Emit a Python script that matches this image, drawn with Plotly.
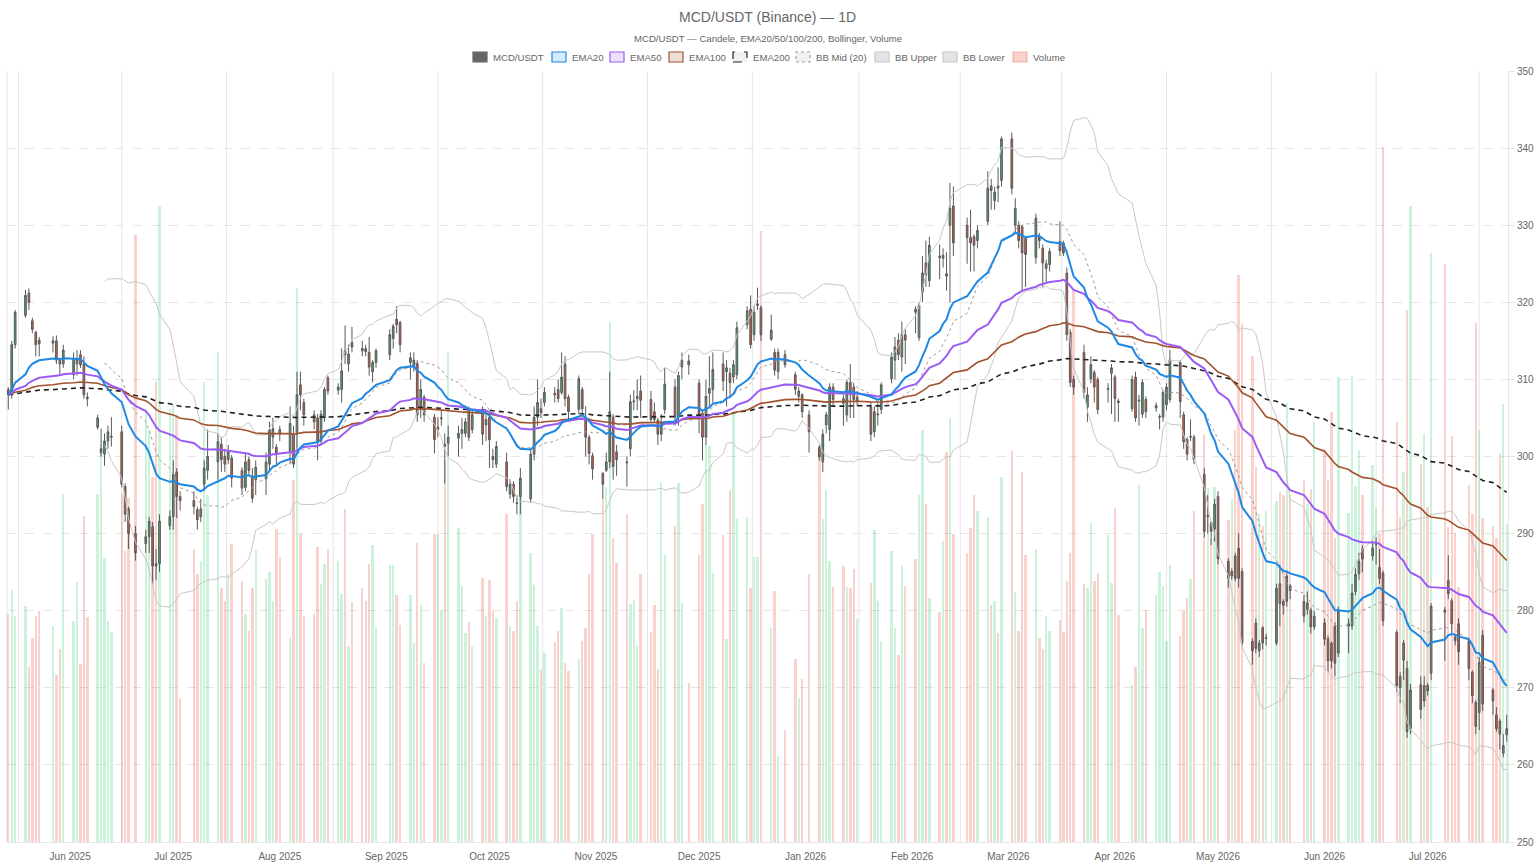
import pandas as pd
import numpy as np
import plotly.graph_objects as go

# ---------------- calendar (US trading days) ----------------
FIRST_DAY = "2025-05-14"
LAST_DAY = "2026-07-24"
MARKET_HOLIDAYS = ["2025-05-26", "2025-06-19", "2025-07-04", "2025-09-01", "2025-11-27",
                   "2025-12-25", "2026-01-01", "2026-01-19", "2026-02-16", "2026-04-03",
                   "2026-05-25", "2026-06-19", "2026-07-03"]

# ---------------- OHLC + volume (one line per week) ----------------
OPEN = [
    308.7, 308.0, 314.5,
    318.3, 321.2, 317.6, 316.1, 315.1,
    314.7, 315.0, 312.5, 312.0,
    310.6, 312.0, 313.2, 312.0, 307.7,
    303.8, 300.5, 300.3, 302.0, 302.5,
    303.2, 296.1, 293.2, 290.0,
    288.7, 289.6, 290.9, 286.1, 286.1,
    291.0, 292.2, 298.0, 294.8,
    294.3, 293.1, 292.2, 296.4, 298.2,
    299.3, 301.6, 300.0, 299.6, 299.8,
    298.2, 296.0, 299.6, 297.5, 297.0,
    297.1, 299.0, 302.5, 301.2, 303.5,
    300.6, 302.9, 302.9, 309.3, 307.0,
    305.4, 305.0, 302.0, 305.0, 310.2,
    308.6, 308.7, 313.7, 312.0, 314.8,
    314.0, 314.0, 313.5, 311.0, 312.2,
    313.2, 315.3, 317.8, 317.4,
    312.2, 311.6, 312.1, 306.1, 307.7,
    305.1, 303.5, 304.9, 301.6, 301.7,
    302.4, 303.0, 303.0, 306.1, 303.5,
    306.1, 304.1, 305.1, 300.0, 299.0,
    299.3, 295.1, 296.4, 294.0, 294.8,
    294.5, 300.3, 305.1, 306.2, 307.0,
    308.2, 308.7, 308.3, 312.0, 307.7,
    306.1, 308.7, 304.8, 302.5, 300.1,
    297.8, 298.2, 299.3, 305.1, 300.6,
    299.3, 301.0, 307.1, 307.5, 308.5,
    307.4, 305.8, 304.7, 302.9, 306.1,
    309.0, 305.1, 311.6, 312.4,
    309.5, 305.6, 302.5, 308.2, 308.7,
    312.0, 311.0, 310.8, 310.3, 310.6,
    317.1, 319.1, 315.8, 319.6, 319.3,
    315.2, 313.5, 311.0, 313.2,
    310.6, 307.8, 308.0, 305.4,
    301.2, 299.3, 304.1, 303.5, 309.0,
    307.5, 305.4, 309.6, 309.0, 307.2,
    306.4, 303.2, 305.4, 306.1,
    310.1, 312.5, 315.1, 312.9, 315.8,
    319.1, 315.4, 321.3, 325.1, 322.8,
    326.0, 325.7, 323.7, 330.0, 332.5,
    330.0, 328.4, 328.5, 328.0,
    330.5, 335.1, 333.2, 335.1, 335.8,
    341.2, 330.0, 330.0, 329.8, 328.3,
    325.8, 328.5, 327.0, 324.4, 324.9,
    327.9, 327.7, 323.8, 316.1, 310.0,
    313.5, 306.4, 310.1, 310.9, 310.0,
    308.7, 310.8, 310.3, 307.2,
    306.2, 310.3, 307.2, 305.5, 307.4,
    306.3, 305.1, 305.1, 306.7, 307.4,
    312.2, 305.4, 302.2, 302.5, 302.5,
    297.7, 292.2, 291.4, 290.6, 294.8,
    286.4, 284.5, 287.1, 288.1, 285.1,
    276.0, 278.4, 274.8, 277.8, 276.4,
    275.8, 283.5, 281.2, 281.2, 283.2,
    281.2, 280.2, 280.1, 277.9,
    278.4, 276.4, 275.8, 278.0, 274.5,
    278.0, 278.0, 282.5, 284.8, 288.0,
    287.1, 288.6, 285.6, 284.9,
    277.2, 271.5, 273.6, 272.5, 264.7,
    270.4, 268.3, 270.3, 271.9,
    280.1, 283.9, 281.3, 276.6, 278.3,
    276.1, 272.0, 268.1, 266.8, 276.8,
    269.7, 266.5, 265.7, 261.5, 263.9,
]
HIGH = [
    309.0, 315.0, 319.0,
    321.6, 321.8, 318.0, 316.3, 315.5,
    315.6, 315.7, 312.8, 314.5,
    313.5, 313.8, 313.8, 313.0, 308.3,
    305.4, 303.6, 303.0, 304.0, 305.1,
    304.0, 296.5, 293.5, 291.0,
    290.5, 292.2, 291.5, 288.0, 292.5,
    293.0, 299.5, 298.5, 295.5,
    295.5, 293.5, 294.5, 299.5, 303.5,
    303.0, 302.5, 301.0, 301.5, 300.2,
    298.6, 300.5, 300.0, 298.5, 299.5,
    300.5, 304.5, 305.0, 301.6, 304.0,
    306.5, 304.0, 311.0, 311.0, 307.5,
    306.0, 305.5, 306.0, 309.0, 310.5,
    309.5, 314.0, 317.0, 314.5, 316.8,
    315.0, 314.5, 315.5, 312.5, 314.0,
    316.5, 317.2, 319.5, 317.6,
    313.5, 313.5, 312.5, 310.0, 308.0,
    305.5, 305.1, 306.0, 303.0, 304.0,
    304.0, 305.0, 305.0, 306.5, 306.0,
    306.5, 306.0, 305.5, 301.0, 302.0,
    300.5, 297.0, 296.8, 295.0, 298.5,
    301.0, 306.5, 310.0, 307.5, 309.0,
    309.0, 310.0, 313.5, 313.0, 308.0,
    310.5, 309.0, 306.5, 302.8, 300.5,
    298.0, 300.5, 311.0, 305.5, 301.5,
    300.0, 308.0, 308.6, 310.0, 310.5,
    308.5, 307.0, 305.0, 305.5, 311.5,
    310.0, 311.0, 313.5, 313.2,
    310.0, 306.0, 310.0, 313.0, 313.5,
    313.5, 312.5, 311.5, 312.5, 317.5,
    319.5, 320.9, 319.5, 321.9, 319.6,
    318.4, 314.0, 314.0, 313.8,
    311.0, 309.0, 308.2, 306.0,
    301.5, 303.5, 305.8, 309.5, 309.5,
    308.0, 310.0, 312.0, 309.5, 308.5,
    307.0, 306.5, 307.0, 309.6,
    313.5, 315.5, 316.0, 317.5, 316.5,
    319.5, 320.0, 326.0, 328.0, 328.5,
    327.5, 327.0, 326.5, 335.5, 335.0,
    331.0, 332.0, 328.8, 330.0,
    337.0, 336.0, 335.0, 337.5, 341.5,
    342.0, 333.5, 330.5, 330.0, 328.6,
    331.5, 329.0, 327.5, 325.5, 327.0,
    330.5, 328.0, 324.5, 316.5, 310.5,
    314.5, 309.0, 313.0, 311.2, 310.3,
    309.5, 312.0, 310.6, 307.5,
    310.5, 311.0, 308.0, 310.0, 307.8,
    307.0, 305.5, 308.6, 309.5, 313.8,
    312.5, 305.8, 302.5, 304.8, 302.8,
    298.5, 295.0, 291.6, 294.5, 295.5,
    286.8, 285.5, 287.5, 290.0, 285.5,
    276.4, 279.0, 276.2, 278.0, 277.0,
    283.5, 286.0, 281.5, 285.0, 283.5,
    282.0, 282.5, 280.4, 280.0,
    279.0, 276.8, 276.0, 278.5, 280.5,
    279.0, 283.5, 285.5, 287.5, 288.5,
    289.0, 289.5, 288.0, 285.2,
    277.5, 272.0, 276.2, 273.5, 270.5,
    271.5, 271.5, 270.6, 281.0,
    280.5, 287.2, 281.6, 276.9, 279.0,
    276.5, 272.3, 268.4, 274.0, 277.5,
    270.0, 267.5, 266.0, 264.0, 266.5,
]
LOW = [
    306.1, 307.5, 314.0,
    318.0, 319.0, 316.0, 313.0, 313.0,
    313.5, 312.0, 310.5, 311.5,
    310.0, 310.5, 311.5, 307.5, 306.5,
    303.5, 300.0, 298.8, 301.0, 301.3,
    296.0, 291.5, 288.0, 286.5,
    287.5, 287.5, 283.5, 284.0, 285.0,
    290.5, 290.5, 292.0, 293.0,
    292.5, 290.5, 291.5, 295.5, 297.0,
    297.0, 298.0, 298.0, 299.0, 296.0,
    295.0, 295.5, 297.5, 294.0, 295.0,
    295.0, 298.0, 301.0, 299.0, 302.0,
    299.0, 298.5, 301.0, 306.0, 304.0,
    303.5, 299.5, 301.5, 304.5, 308.0,
    308.0, 307.0, 312.0, 311.0, 313.5,
    313.0, 313.0, 310.5, 309.6, 311.5,
    312.5, 314.0, 316.0, 313.5,
    310.0, 311.0, 304.5, 305.0, 304.5,
    300.4, 302.5, 304.0, 296.5, 300.0,
    300.0, 301.0, 302.5, 302.0, 303.0,
    301.5, 302.0, 298.5, 298.5, 298.5,
    295.5, 294.5, 294.0, 292.5, 292.5,
    294.0, 299.5, 304.0, 305.0, 306.5,
    307.0, 307.0, 308.0, 306.5, 304.5,
    305.5, 305.5, 300.0, 299.0, 297.0,
    294.5, 298.0, 298.5, 297.0, 297.5,
    296.1, 300.0, 306.0, 306.0, 305.0,
    304.5, 304.5, 301.5, 302.0, 305.5,
    304.0, 304.0, 310.0, 310.6,
    303.0, 299.5, 301.5, 306.5, 307.0,
    308.5, 306.5, 307.7, 309.5, 310.0,
    316.5, 314.0, 315.0, 319.0, 315.0,
    315.0, 310.5, 310.0, 311.5,
    308.0, 307.0, 305.0, 300.5,
    299.5, 298.0, 303.0, 302.0, 306.5,
    304.0, 304.5, 305.0, 305.0, 306.5,
    302.0, 302.5, 304.0, 305.5,
    309.5, 310.0, 312.5, 311.0, 312.0,
    316.0, 315.0, 320.0, 322.0, 322.0,
    323.0, 324.5, 321.5, 320.0, 326.0,
    325.0, 324.0, 324.0, 327.0,
    330.0, 332.0, 332.0, 333.0, 335.0,
    334.0, 329.0, 327.0, 321.5, 322.0,
    325.0, 327.0, 322.0, 322.5, 324.0,
    326.0, 326.0, 315.0, 309.0, 308.0,
    307.5, 304.5, 309.5, 307.0, 305.5,
    307.0, 305.5, 304.5, 304.5,
    305.8, 304.5, 304.0, 305.0, 305.0,
    305.8, 303.5, 304.5, 306.0, 307.0,
    305.0, 301.0, 299.5, 302.0, 299.0,
    289.5, 290.0, 288.5, 289.0, 286.0,
    283.0, 284.0, 283.8, 283.0, 275.5,
    273.0, 274.5, 274.0, 275.0, 275.5,
    275.5, 278.0, 279.5, 280.5, 281.5,
    278.5, 279.5, 277.0, 277.5,
    275.5, 272.0, 272.5, 271.5, 274.0,
    274.5, 277.5, 282.0, 284.0, 285.0,
    286.5, 286.0, 283.5, 278.0,
    269.5, 268.0, 271.0, 263.5, 264.0,
    266.0, 267.5, 269.0, 271.0,
    273.5, 281.5, 277.0, 275.5, 273.0,
    271.0, 268.0, 264.0, 264.5, 267.0,
    266.5, 264.3, 262.0, 261.0, 263.0,
]
CLOSE = [
    308.0, 314.5, 318.7,
    320.9, 320.0, 316.5, 314.5, 314.6,
    315.0, 312.5, 312.0, 313.8,
    312.7, 312.6, 311.9, 308.0, 307.5,
    305.0, 301.0, 302.0, 303.2, 302.6,
    296.4, 292.5, 290.0, 287.5,
    289.6, 291.6, 285.8, 285.8, 291.6,
    292.2, 297.7, 294.8, 294.3,
    293.5, 291.8, 293.2, 298.5, 300.0,
    301.9, 299.6, 299.0, 300.6, 297.2,
    295.9, 299.3, 298.2, 294.6, 298.6,
    299.3, 303.5, 303.6, 300.3, 302.9,
    304.3, 299.0, 308.0, 308.0, 305.4,
    304.5, 301.9, 305.5, 308.7, 308.5,
    309.0, 311.1, 313.2, 313.3, 314.2,
    313.7, 313.6, 311.6, 312.2, 313.7,
    315.8, 316.9, 317.1, 314.5,
    312.8, 312.5, 305.4, 308.7, 305.4,
    302.2, 303.8, 305.0, 301.3, 302.5,
    303.0, 303.5, 304.5, 302.5, 305.4,
    302.9, 304.8, 302.2, 299.6, 301.3,
    296.1, 296.4, 294.8, 293.9, 297.2,
    300.3, 305.1, 307.0, 305.7, 308.3,
    308.0, 307.5, 310.3, 307.5, 305.8,
    310.1, 306.2, 302.5, 300.4, 298.4,
    296.4, 299.3, 305.8, 298.7, 299.6,
    299.2, 307.1, 307.2, 307.8, 307.3,
    304.8, 304.8, 302.9, 304.3, 309.4,
    305.1, 310.5, 312.5, 311.9,
    305.4, 302.5, 307.8, 308.8, 311.3,
    309.8, 311.5, 309.6, 311.9, 316.7,
    318.9, 314.5, 318.7, 319.8, 315.8,
    316.4, 311.2, 313.5, 311.9,
    308.7, 308.5, 305.8, 303.2,
    300.0, 302.9, 305.4, 309.0, 307.4,
    306.9, 309.6, 308.0, 307.4, 307.7,
    302.9, 305.8, 305.5, 309.3,
    312.9, 314.2, 313.2, 315.8, 315.1,
    318.7, 319.6, 323.8, 323.5, 327.4,
    325.8, 326.1, 323.4, 332.2, 327.7,
    328.4, 327.7, 327.4, 329.3,
    334.8, 334.5, 334.3, 334.8, 341.2,
    334.8, 332.2, 328.0, 326.4, 326.2,
    330.9, 328.0, 325.1, 325.0, 326.6,
    326.7, 326.4, 315.8, 309.6, 309.0,
    308.3, 308.0, 311.9, 309.0, 306.1,
    308.8, 311.5, 307.5, 307.0,
    310.0, 305.0, 307.3, 309.6, 305.8,
    306.6, 305.2, 308.3, 309.0, 312.5,
    307.1, 301.9, 300.3, 302.6, 299.6,
    290.3, 292.3, 290.3, 293.8, 286.7,
    284.2, 285.1, 284.2, 284.2, 275.8,
    274.8, 275.1, 275.8, 275.8, 276.5,
    282.9, 280.9, 280.7, 284.5, 282.6,
    279.3, 281.0, 277.9, 279.3,
    276.3, 273.5, 273.5, 273.2, 280.1,
    278.3, 282.3, 284.7, 286.4, 286.7,
    288.1, 288.7, 284.2, 278.7,
    270.3, 270.0, 275.8, 264.3, 269.7,
    267.2, 270.3, 269.6, 280.6,
    279.8, 282.2, 278.3, 276.1, 274.7,
    272.5, 269.0, 265.0, 273.3, 267.9,
    268.3, 264.7, 264.0, 262.5, 264.7,
]
VOLUME = [
    29.6, 32.7, 29.3,
    30.6, 22.7, 26.5, 29.3, 30.0,
    28.0, 21.6, 25.0, 45.2,
    28.7, 33.7, 23.1, 42.3, 29.2,
    45.2, 51.6, 36.9, 28.7, 27.2,
    45.1, 37.7, 44.6, 78.7,
    56.1, 53.5, 47.4, 59.6, 82.5,
    56.1, 56.7, 55.4, 18.7,
    38.0, 34.8, 36.4, 59.6, 45.0,
    63.5, 32.9, 31.3, 34.8, 38.7,
    33.8, 29.6, 27.4, 32.9, 37.9,
    34.1, 35.0, 31.2, 40.6, 37.0,
    26.4, 47.0, 71.9, 40.0, 29.3,
    29.6, 38.3, 33.5, 36.0, 38.0,
    36.4, 32.2, 43.2, 25.4, 31.1,
    32.9, 31.3, 36.1, 38.5, 27.7,
    35.9, 35.9, 32.1, 28.2,
    32.1, 25.8, 38.8, 30.7, 23.2,
    40.0, 40.0, 30.0, 49.6, 63.5,
    40.7, 33.2, 27.1, 28.5, 25.4,
    34.3, 29.3, 34.0, 30.0, 29.0,
    42.5, 28.0, 27.4, 31.3, 45.0,
    37.5, 33.3, 28.0, 22.5, 24.5,
    25.9, 27.4, 30.4, 23.2, 22.2,
    23.8, 26.1, 27.8, 34.8, 40.0,
    44.5, 46.1, 67.4, 39.4, 36.2,
    42.5, 30.9, 31.4, 25.6, 34.7,
    27.2, 30.8, 22.4, 46.7, 37.2,
    41.0, 46.5, 31.0, 20.6,
    37.2, 43.8, 51.6, 51.4, 34.9,
    39.8, 26.3, 45.6, 55.6, 41.9,
    42.2, 33.0, 37.0, 37.0, 79.3,
    27.8, 32.5, 11.2, 14.5,
    23.8, 18.7, 21.2, 34.8,
    50.6, 41.9, 45.6, 36.4, 33.1,
    35.8, 33.1, 32.9, 35.4, 28.9,
    33.6, 40.5, 31.3, 26.1,
    37.7, 27.8, 24.3, 35.8, 33.2,
    36.7, 45.0, 53.4, 43.8, 31.6,
    29.8, 39.0, 50.6, 55.0, 40.0,
    37.5, 40.7, 45.0, 42.9,
    42.2, 30.7, 31.2, 27.1, 47.4,
    50.7, 32.4, 27.4, 48.0, 37.2,
    38.0, 26.5, 25.0, 29.3, 27.4,
    28.8, 27.2, 33.8, 37.5, 71.6,
    33.5, 33.0, 41.4, 33.8, 34.9,
    39.8, 33.6, 43.3, 29.5,
    20.3, 22.7, 46.3, 27.7, 30.1,
    32.1, 35.0, 33.2, 26.1, 35.9,
    26.7, 30.0, 31.6, 34.1, 42.9,
    52.9, 45.9, 39.3, 46.1, 42.5,
    41.8, 44.5, 53.5, 73.5, 67.2,
    63.1, 48.7, 42.5, 41.0, 42.9,
    44.2, 45.4, 45.0, 56.9, 45.0,
    47.0, 43.8, 45.8, 54.5,
    51.0, 46.9, 55.8, 39.4, 60.3,
    42.7, 60.5, 46.2, 50.8, 45.0,
    48.9, 43.2, 40.0, 90.1,
    54.5, 42.2, 48.0, 69.0, 82.5,
    49.0, 52.9, 43.5, 76.4,
    75.0, 40.8, 52.6, 40.1, 33.1,
    46.3, 42.6, 67.3, 53.5, 42.0,
    41.0, 39.4, 50.3, 56.8, 41.2,
]

LEGEND_LABELS = ["MCD/USDT", "EMA20", "EMA50", "EMA100", "EMA200",
                 "BB Mid (20)", "BB Upper", "BB Lower", "Volume"]
TITLE = "MCD/USDT (Binance) — 1D"
SUBTITLE = "MCD/USDT — Candele, EMA20/50/100/200, Bollinger, Volume"

# ---------------- build series ----------------
dates = pd.bdate_range(FIRST_DAY, LAST_DAY, freq="C", holidays=MARKET_HOLIDAYS)
n = len(dates)
assert n == len(OPEN) == len(HIGH) == len(LOW) == len(CLOSE) == len(VOLUME), (
    n, len(OPEN), len(HIGH), len(LOW), len(CLOSE), len(VOLUME))

close = pd.Series(CLOSE, index=dates)
ema = {p: close.ewm(span=p, adjust=False).mean() for p in (20, 50, 100, 200)}
bb_mid = close.rolling(20).mean()
bb_sd = close.rolling(20).std(ddof=0)
bb_up = bb_mid + 2 * bb_sd
bb_lo = bb_mid - 2 * bb_sd

# ---------------- styles ----------------
FONT = "Liberation Sans, Arial, Helvetica, sans-serif"
TXT = "#666666"
GRID = "#e6e6e6"
UP_FILL, DOWN_FILL, CANDLE_LINE = "rgb(80,160,115)", "rgb(215,85,65)", "rgb(90,90,90)"
VOL_UP, VOL_DOWN = "rgba(46,204,113,0.25)", "rgba(231,76,60,0.25)"
C_EMA20, C_EMA50, C_EMA100, C_EMA200 = "#1e88e5", "#9b5cf6", "#a0522d", "#222222"
C_BBMID, C_BB = "#9e9e9e", "#c8c8c8"

# plot-area pixel geometry (figure is 1536 x 864)
W, H = 1536, 864
PL, PR, PT, PB = 7, 1508, 71, 842


def px(xpix):
    return (xpix - PL) / (PR - PL)


def py(ypix):
    return (PB - ypix) / (PB - PT)


fig = go.Figure()

# volume on the hidden base axis (drawn behind)
vol_colors = [VOL_UP if c >= o else VOL_DOWN for o, c in zip(OPEN, CLOSE)]
fig.add_trace(go.Bar(x=dates, y=VOLUME, marker=dict(color=vol_colors, line=dict(width=0)),
                     width=0.7 * 86400000, yaxis="y", name="Volume", showlegend=False,
                     hoverinfo="skip"))

line_specs = [
    (bb_lo, C_BB, 1, "solid", "BB Lower"),
    (bb_up, C_BB, 1, "solid", "BB Upper"),
    (bb_mid, C_BBMID, 1, "3px,3px", "BB Mid (20)"),
    (ema[200], C_EMA200, 1.6, "5px,4px", "EMA200"),
    (ema[100], C_EMA100, 1.6, "solid", "EMA100"),
    (ema[50], C_EMA50, 2, "solid", "EMA50"),
    (ema[20], C_EMA20, 2, "solid", "EMA20"),
]
for s, col, w, dash, name in line_specs:
    fig.add_trace(go.Scatter(x=dates, y=s.values, mode="lines", yaxis="y2", name=name,
                             line=dict(color=col, width=w, dash=dash), showlegend=False,
                             connectgaps=False))

fig.add_trace(go.Candlestick(
    x=dates, open=OPEN, high=HIGH, low=LOW, close=CLOSE, yaxis="y2", name="MCD/USDT",
    increasing=dict(fillcolor=UP_FILL, line=dict(color=CANDLE_LINE, width=1)),
    decreasing=dict(fillcolor=DOWN_FILL, line=dict(color=CANDLE_LINE, width=1)),
    showlegend=False))

# ---------------- month grid lines (offset between month ticks) ----------------
months = pd.date_range("2025-06-01", "2026-07-01", freq="MS")
grid_x = []
for i, m in enumerate(months):
    if i == 0:
        grid_x.append(m - (months[1] - months[0]) / 2)
    else:
        grid_x.append(months[i - 1] + (m - months[i - 1]) / 2)
grid_x.append(months[-1] + (months[-1] - months[-2]) / 2)

shapes = []
for g in grid_x:
    shapes.append(dict(type="line", xref="x", yref="paper", x0=g, x1=g, y0=0, y1=1,
                       line=dict(color=GRID, width=1), layer="below"))
shapes.append(dict(type="line", xref="paper", yref="paper", x0=0, x1=0, y0=0, y1=1,
                   line=dict(color=GRID, width=1), layer="below"))

# ---------------- custom legend (box style) ----------------
legend_style = [
    ("rgb(102,102,102)", "rgb(102,102,102)", "solid"),
    ("rgba(30,136,229,0.18)", C_EMA20, "solid"),
    ("rgba(155,92,246,0.18)", C_EMA50, "solid"),
    ("rgba(160,82,45,0.18)", C_EMA100, "solid"),
    ("rgba(0,0,0,0.06)", C_EMA200, "dash"),
    ("rgba(0,0,0,0.06)", C_BBMID, "dot"),
    ("rgba(0,0,0,0.10)", C_BB, "solid"),
    ("rgba(0,0,0,0.10)", C_BB, "solid"),
    ("rgba(231,76,60,0.25)", "rgba(231,76,60,0.35)", "solid"),
]
icon_left = [473, 552, 610, 669, 733, 796, 875, 943, 1013]
annotations = []
for lab, (fill, lc, dash), x0 in zip(LEGEND_LABELS, legend_style, icon_left):
    shapes.append(dict(type="rect", xref="paper", yref="paper",
                       x0=px(x0), x1=px(x0 + 14), y0=py(62), y1=py(52),
                       fillcolor=fill, line=dict(color=lc, width=1.2, dash=dash)))
    annotations.append(dict(text=lab, xref="paper", yref="paper", x=px(x0 + 18), y=py(57.5),
                            xanchor="left", yanchor="middle", showarrow=False,
                            font=dict(family=FONT, size=9.6, color=TXT)))

annotations.append(dict(text=TITLE, xref="paper", yref="paper", x=px(768), y=py(17),
                        xanchor="center", yanchor="middle", showarrow=False,
                        font=dict(family=FONT, size=14, color=TXT)))
annotations.append(dict(text=SUBTITLE, xref="paper", yref="paper", x=px(768), y=py(39),
                        xanchor="center", yanchor="middle", showarrow=False,
                        font=dict(family=FONT, size=9.6, color=TXT)))

x_start = dates[0] - pd.Timedelta(hours=9)
x_end = dates[-1] + pd.Timedelta(hours=9)

fig.update_layout(
    width=W, height=H, autosize=False,
    margin=dict(l=PL, r=W - PR, t=PT, b=H - PB, pad=0),
    paper_bgcolor="white", plot_bgcolor="white",
    showlegend=False, bargap=0,
    font=dict(family=FONT, size=10, color=TXT),
    xaxis=dict(type="date", range=[x_start, x_end], showgrid=False, zeroline=False,
               automargin=False,
               tick0="2025-06-01", dtick="M1", tickformat="%b %Y",
               ticks="outside", ticklen=5, tickcolor="rgba(0,0,0,0)",
               tickfont=dict(family=FONT, size=10, color=TXT),
               showline=True, linecolor=GRID, linewidth=1,
               rangeslider=dict(visible=False)),
    yaxis=dict(range=[0, 100], visible=False, fixedrange=True, automargin=False),
    yaxis2=dict(overlaying="y", side="right", range=[250, 350], dtick=10,
                automargin=False,
                showgrid=True, gridcolor=GRID, griddash="dash", gridwidth=1,
                zeroline=False, showline=True, linecolor=GRID, linewidth=1,
                ticks="outside", ticklen=6, tickcolor=GRID,
                tickfont=dict(family=FONT, size=10, color=TXT)),
    shapes=shapes,
    annotations=annotations,
)

fig.write_html("out.html")
